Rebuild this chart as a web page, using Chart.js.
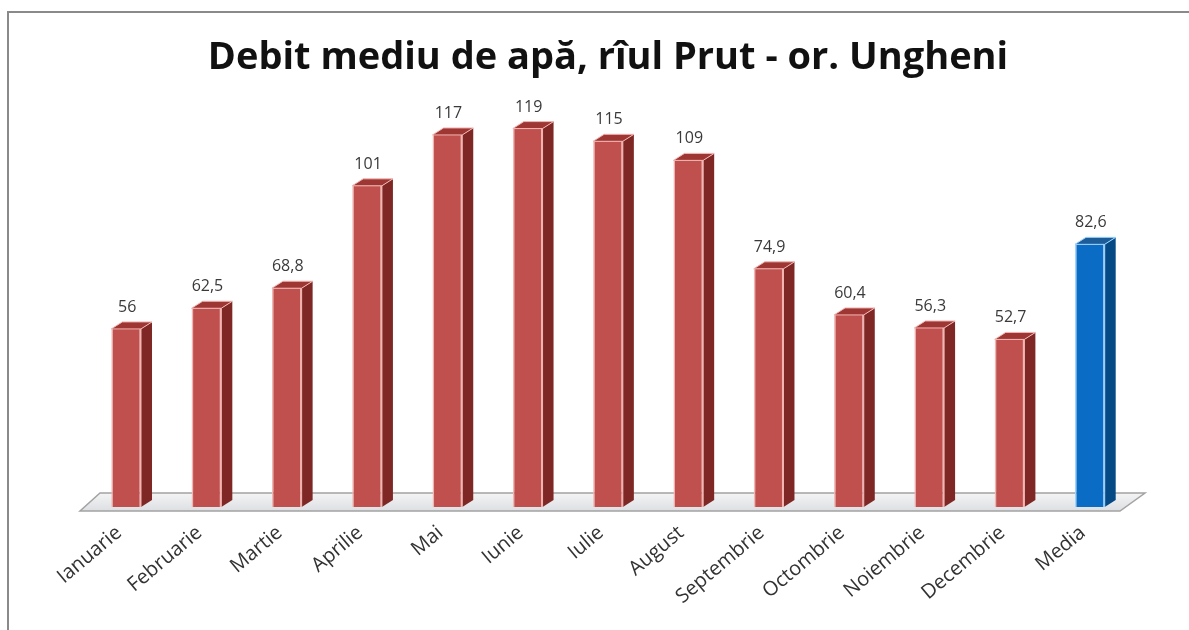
<!DOCTYPE html>
<html>
<head>
<meta charset="utf-8">
<script src="https://cdn.jsdelivr.net/npm/chart.js@4.4.1/dist/chart.umd.min.js"></script>
<style>
  html, body { margin: 0; padding: 0; background: #fff; }
  #wrap { width: 1189px; height: 630px; position: relative; }
</style>
</head>
<body>
<div id="wrap"><canvas id="barChart"></canvas></div>
<script>
/* Debit mediu de apa - 3D look bars */

var months = ["Ianuarie", "Februarie", "Martie", "Aprilie", "Mai", "Iunie", "Iulie",
    "August", "Septembrie", "Octombrie", "Noiembrie", "Decembrie", "Media"];
var debit = [56, 62.5, 68.8, 101, 117, 119, 115, 109, 74.9, 60.4, 56.3, 52.7, 82.6];
var titleText = "Debit mediu de apă, rîul Prut - or. Ungheni";

var FONT = "'Open Sans', sans-serif";
var DX = 11, DY = 7;

// front / side / top colours, last bar (Media) is blue
var frontCol = months.map(function (m, i) { return i === months.length - 1 ? "#0A6CC4" : "#C0504D"; });
var edgeCol = months.map(function (m, i) { return i === months.length - 1 ? "#9FD4FF" : "#F3B5B2"; });
var sideCol = months.map(function (m, i) { return i === months.length - 1 ? "#064A85" : "#7E2725"; });
var topCol = months.map(function (m, i) { return i === months.length - 1 ? "#1B5C99" : "#9E3734"; });

function fmt(v) {
    return String(v).replace(".", ",");
}

var framePlugin = {
    id: "frame",
    beforeDraw: function (chart) {
        var ctx = chart.ctx;
        ctx.save();
        ctx.fillStyle = "#ffffff";
        ctx.fillRect(0, 0, chart.width, chart.height);
        ctx.strokeStyle = "#8a8a8a";
        ctx.lineWidth = 2;
        ctx.beginPath();
        ctx.moveTo(8, chart.height);
        ctx.lineTo(8, 12);
        ctx.lineTo(chart.width, 12);
        ctx.stroke();
        ctx.restore();
    },
    beforeDatasetsDraw: function (chart) {
        // the floor
        var ctx = chart.ctx, a = chart.chartArea;
        var b = chart.scales.y.getPixelForValue(0);
        ctx.save();
        ctx.beginPath();
        ctx.moveTo(a.left - 6, b + 4);
        ctx.lineTo(a.right - 10, b + 4);
        ctx.lineTo(a.right + 15, b - 14);
        ctx.lineTo(a.left + 14, b - 14);
        ctx.closePath();
        var g = ctx.createLinearGradient(0, b - 14, 0, b + 4);
        g.addColorStop(0, "#f4f4f4");
        g.addColorStop(1, "#dcdfe3");
        ctx.fillStyle = g;
        ctx.fill();
        ctx.strokeStyle = "#a3a3a3";
        ctx.lineWidth = 1.5;
        ctx.stroke();
        ctx.restore();
    },
    afterDatasetsDraw: function (chart) {
        var ctx = chart.ctx;
        var meta = chart.getDatasetMeta(0);
        ctx.save();
        meta.data.forEach(function (bar, i) {
            var p = bar.getProps(["x", "y", "base", "width"], true);
            var l = p.x - p.width / 2, r = p.x + p.width / 2;
            // side
            ctx.beginPath();
            ctx.moveTo(r, p.y);
            ctx.lineTo(r + DX, p.y - DY);
            ctx.lineTo(r + DX, p.base - DY);
            ctx.lineTo(r, p.base);
            ctx.closePath();
            ctx.fillStyle = sideCol[i];
            ctx.fill();
            // top
            ctx.beginPath();
            ctx.moveTo(l, p.y);
            ctx.lineTo(r, p.y);
            ctx.lineTo(r + DX, p.y - DY);
            ctx.lineTo(l + DX, p.y - DY);
            ctx.closePath();
            ctx.fillStyle = topCol[i];
            ctx.fill();
            ctx.strokeStyle = edgeCol[i];
            ctx.lineWidth = 1;
            ctx.stroke();
            ctx.beginPath();
            ctx.moveTo(r, p.base);
            ctx.lineTo(r, p.y);
            ctx.stroke();
            // value label
            ctx.fillStyle = "#3a3a3a";
            ctx.font = "16px " + FONT;
            ctx.textAlign = "center";
            ctx.textBaseline = "alphabetic";
            ctx.fillText(fmt(debit[i]), p.x + 1, p.y - 17);
        });
        ctx.restore();
    }
};

var barChartData = {
    labels: months,
    datasets: [
        {
            label: "Debit",
            data: debit,
            backgroundColor: frontCol,
            borderColor: edgeCol,
            borderWidth: { left: 1.5, right: 1.5, top: 0, bottom: 0 },
            borderSkipped: false,
            categoryPercentage: 1.0,
            barPercentage: 0.37
        }
    ]
};

var chartOptions = {
    responsive: false,
    animation: false,
    layout: {
        padding: { left: 86, right: 59, top: 0, bottom: 0 }
    },
    plugins: {
        legend: { display: false },
        tooltip: { enabled: false },
        title: {
            display: true,
            text: titleText,
            color: "#111",
            font: { family: FONT, size: 38, weight: "bold" },
            padding: { top: 35, bottom: 13 }
        }
    },
    scales: {
        x: {
            grid: { display: false },
            border: { display: false },
            ticks: {
                color: "#333",
                font: { family: FONT, size: 20 },
                minRotation: 40,
                maxRotation: 40,
                padding: 6,
                labelOffset: -7,
                autoSkip: false
            },
            afterFit: function (scale) {
                scale.height = 123;
            }
        },
        y: {
            display: false,
            min: 0,
            max: 130
        }
    }
};

window.onload = function () {
    var canvas = document.getElementById("barChart");
    canvas.width = 1189;
    canvas.height = 630;
    var ctx = canvas.getContext("2d");
    window.myBar = new Chart(ctx, {
        type: "bar",
        data: barChartData,
        options: chartOptions,
        plugins: [framePlugin]
    });
};
</script>
</body>
</html>
